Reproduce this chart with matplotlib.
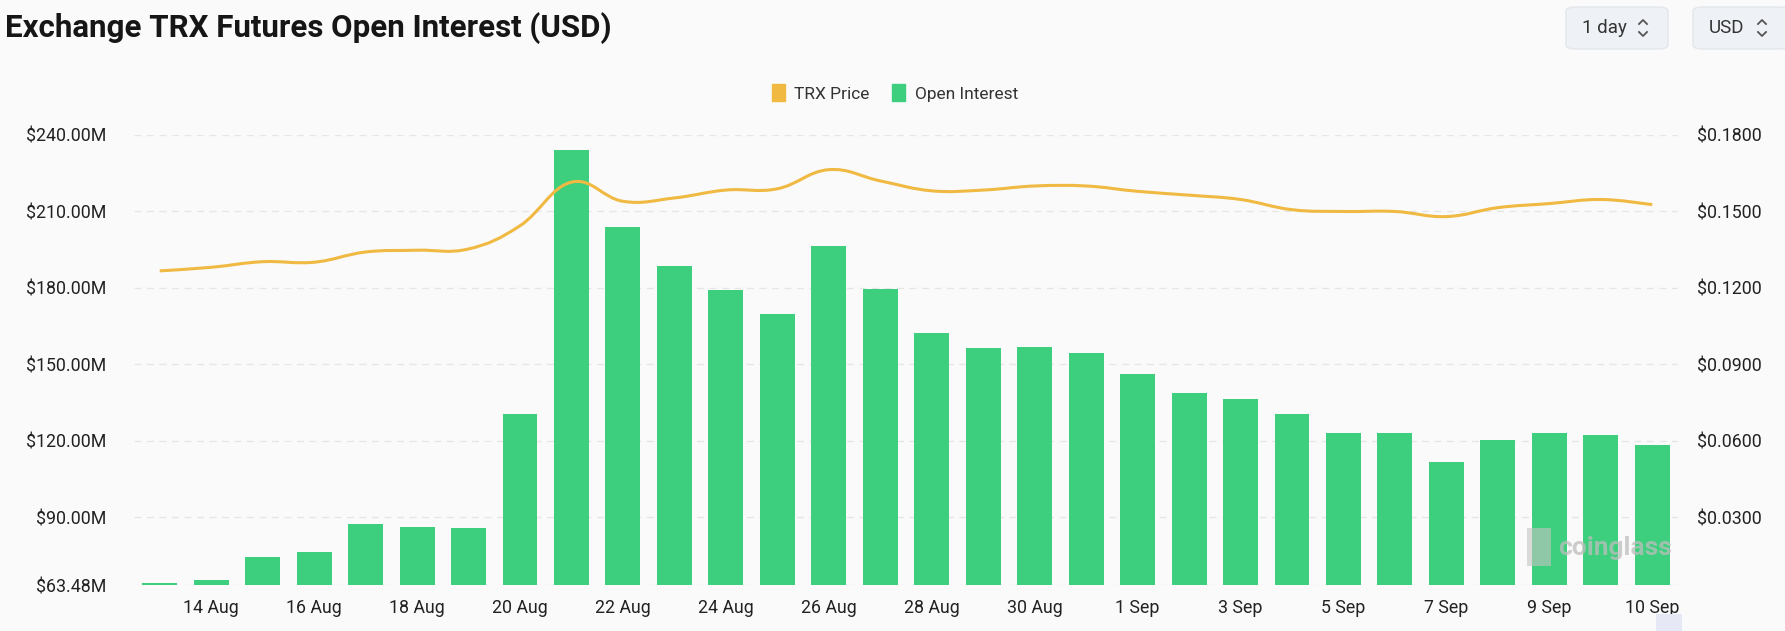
import numpy as np
import matplotlib
matplotlib.use('Agg')
import matplotlib.pyplot as plt
from matplotlib.path import Path
from matplotlib.patches import PathPatch, FancyBboxPatch, Patch, Rectangle
from matplotlib.lines import Line2D

plt.rcParams['font.family'] = ['Roboto', 'DejaVu Sans']

# dates (the last two both fall on 10 Sep: daily bar + live bar)
dates = ['13 Aug', '14 Aug', '15 Aug', '16 Aug', '17 Aug', '18 Aug', '19 Aug', '20 Aug',
         '21 Aug', '22 Aug', '23 Aug', '24 Aug', '25 Aug', '26 Aug', '27 Aug', '28 Aug',
         '29 Aug', '30 Aug', '31 Aug', '1 Sep', '2 Sep', '3 Sep', '4 Sep', '5 Sep',
         '6 Sep', '7 Sep', '8 Sep', '9 Sep', '10 Sep', '10 Sep']
# open interest, millions USD
open_interest = [64.2, 65.4, 74.3, 76.3, 87.6, 86.4, 86.0, 130.7, 234.0, 204.0,
                 188.7, 179.1, 169.7, 196.4, 179.5, 162.4, 156.4, 156.7, 154.4, 146.4,
                 138.9, 136.4, 130.7, 123.3, 123.2, 111.9, 120.4, 123.1, 122.4, 118.4]
# TRX price, USD
trx_price = [0.1267, 0.1281, 0.1303, 0.1301, 0.1341, 0.1348, 0.1353, 0.1444, 0.1615, 0.1540,
             0.1553, 0.1584, 0.1589, 0.1664, 0.1620, 0.1581, 0.1584, 0.1600, 0.1600, 0.1579,
             0.1564, 0.1547, 0.1507, 0.1500, 0.1500, 0.1480, 0.1515, 0.1531, 0.1547, 0.1527]

left_ticks = [63.48, 90, 120, 150, 180, 210, 240]
right_ticks = [0.03, 0.06, 0.09, 0.12, 0.15, 0.18]
label_idx = list(range(1, 28, 2)) + [29]

bg = '#fafafa'
green = '#3ecf7e'
orange = '#f0b942'
txt = '#222222'

fig = plt.figure(figsize=(17.85, 6.31), dpi=100, facecolor=bg)
ax = fig.add_axes([134 / 1785, 46 / 631, (1678 - 134) / 1785, (585 - 135) / 631])
ax.set_facecolor(bg)

x = np.arange(len(dates))
ax.bar(x, open_interest, width=0.68, color=green, zorder=2)
ax.set_xlim(-0.5, len(dates) - 0.5)
ax.set_ylim(63.48, 240)
ax.set_yticks(left_ticks)
ax.set_yticklabels(['$%.2fM' % v for v in left_ticks])
ax.set_xticks(label_idx)
ax.set_xticklabels([dates[i] for i in label_idx])
ax.yaxis.grid(True, color='#e6e6e6', linestyle=(0, (5, 4)), lw=1)
ax.set_axisbelow(True)
for s in ax.spines.values():
    s.set_visible(False)
ax.tick_params(axis='both', length=0, labelsize=12.8, colors=txt)
ax.tick_params(axis='y', pad=20)
ax.tick_params(axis='x', pad=10)

ax2 = ax.twinx()
ax2.set_ylim(0.00348, 0.18)
ax2.set_yticks(right_ticks)
ax2.set_yticklabels(['$%.4f' % v for v in right_ticks])
for s in ax2.spines.values():
    s.set_visible(False)
ax2.tick_params(axis='y', length=0, labelsize=12.8, colors=txt, pad=14)

# smooth line through the price points (cubic bezier, catmull-rom style)
p = np.column_stack([x, trx_price]).astype(float)
k = 0.2
verts = [p[0]]
codes = [Path.MOVETO]
for i in range(len(p) - 1):
    p0 = p[i - 1] if i > 0 else p[i]
    p3 = p[i + 2] if i + 2 < len(p) else p[i + 1]
    c1 = p[i] + (p[i + 1] - p0) * k
    c2 = p[i + 1] - (p3 - p[i]) * k
    verts += [c1, c2, p[i + 1]]
    codes += [Path.CURVE4] * 3
ax2.add_patch(PathPatch(Path(verts, codes), fill=False, edgecolor=orange, lw=2.2, zorder=3))

# legend
fig.legend(handles=[Patch(color=orange, label='TRX Price'), Patch(color=green, label='Open Interest')],
           loc='center', bbox_to_anchor=(895 / 1785, 1 - 93 / 631), ncol=2, frameon=False,
           handlelength=0.75, handleheight=1.1, handletextpad=0.55, columnspacing=1.3,
           fontsize=12.5, labelcolor='#333333')

# title
fig.text(5 / 1785, 1 - 28 / 631, 'Exchange TRX Futures Open Interest (USD)', fontsize=22.5,
         fontweight='bold', color='#161616', va='center', ha='left')

# selector buttons with small up/down chevrons
W, H = 1785.0, 631.0
for (x0, x1, label, cx) in [(1566, 1668, '1 day', 1643), (1693, 1790, 'USD', 1762)]:
    fig.patches.append(FancyBboxPatch((x0 / W, 1 - 49 / H), (x1 - x0) / W, 42 / H,
                                      boxstyle='round,pad=0,rounding_size=0.006',
                                      transform=fig.transFigure, facecolor='#eef1f5',
                                      edgecolor='#e3e6ea', lw=1))
    fig.text((x0 + 16) / W, 1 - 28 / H, label, fontsize=13.5, color='#333333', va='center')
    for (ya, yb) in [(20, 24), (36, 32)]:
        fig.add_artist(Line2D([(cx - 4) / W, cx / W, (cx + 4) / W],
                              [1 - yb / H, 1 - ya / H, 1 - yb / H],
                              transform=fig.transFigure, color='#555555', lw=1.3))

# watermark
fig.text(1558 / W, 1 - 548 / H, 'coinglass', fontsize=19, color='#bdbdbd', alpha=0.75,
         va='center', ha='left', fontweight='bold')
fig.patches.append(Rectangle((1527 / W, 1 - 566 / H), 24 / W, 38 / H,
                             transform=fig.transFigure, facecolor='#c4c4c4', alpha=0.6,
                             edgecolor='none'))
# data zoom handle remnant
fig.patches.append(Rectangle((1656 / W, 0), 26 / W, 17 / H, transform=fig.transFigure,
                             facecolor='#e6e9f5', edgecolor='none'))

fig.savefig('out.png', dpi=100, facecolor=bg)
